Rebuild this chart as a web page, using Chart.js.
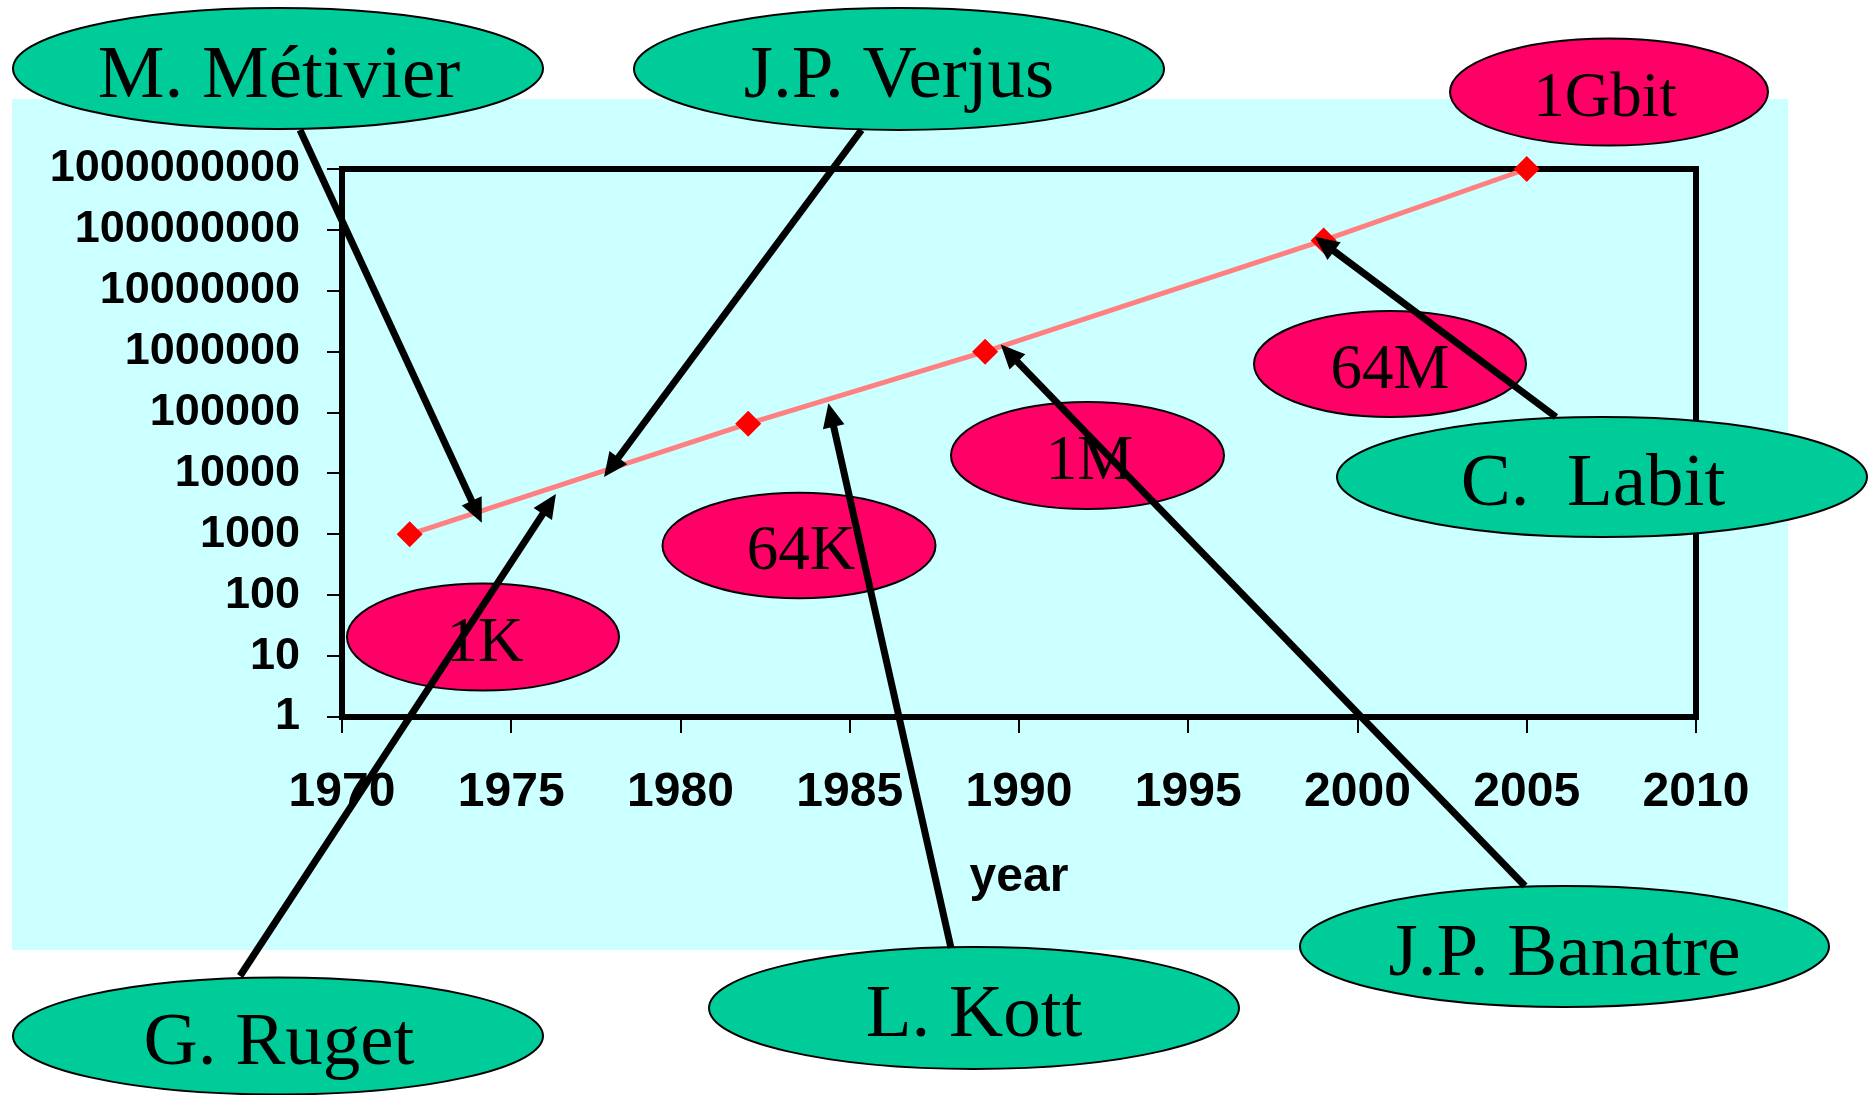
<!DOCTYPE html>
<html>
<head>
<meta charset="utf-8">
<script src="https://cdn.jsdelivr.net/npm/chart.js@4/dist/chart.umd.min.js"></script>
<style>
html,body{margin:0;padding:0;background:#fff;}
#wrap{width:1869px;height:1095px;position:relative;}
canvas{display:block;}
</style>
</head>
<body>
<div id="wrap"><canvas id="c" width="1869" height="1095"></canvas></div>
<script>
// ---- data ----
const years = [1972, 1982, 1989, 1999, 2005];
const bits = [1000, 65536, 1000000, 67108864, 1000000000];
const xTickValues = [1970, 1975, 1980, 1985, 1990, 1995, 2000, 2005, 2010];
const yTickValues = [1, 10, 100, 1000, 10000, 100000, 1000000, 10000000, 100000000, 1000000000];
const xTitle = 'year';
const chipLabels = ['1K', '64K', '1M', '64M', '1Gbit'];
const people = ['M. Métivier', 'J.P. Verjus', 'G. Ruget', 'L. Kott', 'J.P. Banatre', 'C.  Labit'];
// arrow targets (data coordinates: year, bits) for each person
const arrowYears = [1974.13, 1977.74, 1976.32, 1984.37, 1989.46, 1998.74];
const arrowBits = [1553, 8770, 4595, 141900, 1306000, 77300000];

// ---- layout of annotation shapes (pixels) ----
const chipShapes = [
  {cx: 483, cy: 637, rx: 136, ry: 53.5, dx: 2},
  {cx: 799, cy: 545.5, rx: 136.5, ry: 52.7, dx: 2},
  {cx: 1087.5, cy: 455.5, rx: 136.5, ry: 53.5, dx: 2},
  {cx: 1390, cy: 364, rx: 136, ry: 53, dx: 0},
  {cx: 1609, cy: 92, rx: 159, ry: 53.5, dx: -4}
];
const personShapes = [
  {cx: 278, cy: 68.5, rx: 265, ry: 60.5, dx: 1, sx: 300, sy: 130},
  {cx: 899, cy: 69, rx: 265, ry: 61, dx: 0, sx: 861.5, sy: 130},
  {cx: 278, cy: 1036, rx: 265, ry: 58.5, dx: 1, sx: 240, sy: 976},
  {cx: 974, cy: 1008, rx: 265, ry: 61, dx: 0, sx: 951, sy: 948},
  {cx: 1564.5, cy: 946.5, rx: 264.5, ry: 60.5, dx: 0, sx: 1525, sy: 886},
  {cx: 1602, cy: 477, rx: 265, ry: 60, dx: -9, sx: 1556, sy: 417}
];

const W = 1869, H = 1095;

function ellipse(ctx, s, fill) {
  ctx.beginPath();
  ctx.ellipse(s.cx, s.cy, s.rx, s.ry, 0, 0, Math.PI * 2);
  ctx.fillStyle = fill;
  ctx.fill();
  ctx.lineWidth = 2;
  ctx.strokeStyle = '#000';
  ctx.stroke();
}

function arrow(ctx, x0, y0, x1, y1) {
  const ang = Math.atan2(y1 - y0, x1 - x0);
  const len = 24, hw = 11;
  const bx = x1 - Math.cos(ang) * len, by = y1 - Math.sin(ang) * len;
  ctx.beginPath();
  ctx.moveTo(x0, y0);
  ctx.lineTo(bx + Math.cos(ang) * 2, by + Math.sin(ang) * 2);
  ctx.lineWidth = 7;
  ctx.lineCap = 'butt';
  ctx.strokeStyle = '#000';
  ctx.stroke();
  ctx.beginPath();
  ctx.moveTo(x1, y1);
  ctx.lineTo(bx + Math.sin(ang) * hw, by - Math.cos(ang) * hw);
  ctx.lineTo(bx - Math.sin(ang) * hw, by + Math.cos(ang) * hw);
  ctx.closePath();
  ctx.fillStyle = '#000';
  ctx.fill();
}

const annoPlugin = {
  id: 'anno',
  beforeDraw(chart) {
    const c = chart.ctx;
    c.save();
    c.fillStyle = '#ffffff';
    c.fillRect(0, 0, W, H);
    c.fillStyle = '#CCFFFF';
    c.fillRect(12, 99, 1776, 851);
    c.restore();
  },
  beforeDatasetsDraw(chart) {
    const c = chart.ctx;
    const a = chart.chartArea;
    c.save();
    c.strokeStyle = '#000';
    c.lineWidth = 6;
    c.lineCap = 'square';
    c.beginPath();
    c.moveTo(a.left, a.top);
    c.lineTo(a.right, a.top);
    c.lineTo(a.right, a.bottom);
    c.stroke();
    c.restore();
  },
  afterDraw(chart) {
    const c = chart.ctx;
    const xs = chart.scales.x, ys = chart.scales.y;
    c.save();
    chipShapes.forEach((s, i) => {
      ellipse(c, s, '#FF0066');
      c.fillStyle = '#000';
      c.font = '63px "Liberation Serif", "Times New Roman", serif';
      c.textAlign = 'center';
      c.textBaseline = 'alphabetic';
      c.fillText(chipLabels[i], s.cx + s.dx, s.cy + 23.5);
    });
    personShapes.forEach((s, i) => {
      ellipse(c, s, '#00CC99');
      c.fillStyle = '#000';
      c.font = '75px "Liberation Serif", "Times New Roman", serif';
      c.textAlign = 'center';
      c.textBaseline = 'alphabetic';
      c.fillText(people[i], s.cx + s.dx, s.cy + 28);
    });
    personShapes.forEach((s, i) => {
      const tx = xs.getPixelForValue(arrowYears[i]);
      const ty = ys.getPixelForValue(arrowBits[i]);
      arrow(c, s.sx, s.sy, tx, ty);
    });
    c.restore();
  }
};

const tickFontY = {family: '"Liberation Sans", Arial, sans-serif', weight: 'bold', size: 45};
const tickFontX = {family: '"Liberation Sans", Arial, sans-serif', weight: 'bold', size: 48};

new Chart(document.getElementById('c'), {
  type: 'line',
  data: {
    datasets: [{
      data: years.map((yr, i) => ({x: yr, y: bits[i]})),
      borderColor: '#FF8080',
      borderWidth: 5,
      pointStyle: 'rectRot',
      pointRadius: 13,
      pointBackgroundColor: '#FF0000',
      pointBorderColor: '#FF0000',
      pointBorderWidth: 0,
      tension: 0,
      clip: false
    }]
  },
  options: {
    responsive: false,
    animation: false,
    devicePixelRatio: 1,
    layout: {padding: {left: 0, top: 169, right: 173, bottom: 0}},
    plugins: {legend: {display: false}, tooltip: {enabled: false}, title: {display: false}},
    scales: {
      x: {
        type: 'linear',
        min: 1970,
        max: 2010,
        afterBuildTicks: s => { s.ticks = xTickValues.map(v => ({value: v})); },
        afterFit: s => { s.height = 378; },
        ticks: {
          callback: v => String(v),
          font: tickFontX,
          color: '#000',
          padding: 31,
          maxRotation: 0,
          autoSkip: false
        },
        grid: {drawOnChartArea: false, drawTicks: true, tickLength: 16, color: '#000', lineWidth: 2},
        border: {display: true, color: '#000', width: 6},
        title: {
          display: true,
          text: xTitle,
          color: '#000',
          font: tickFontX,
          padding: {top: 0, bottom: 188}
        }
      },
      y: {
        type: 'logarithmic',
        min: 1,
        max: 1000000000,
        afterBuildTicks: s => { s.ticks = yTickValues.map(v => ({value: v})); },
        afterFit: s => { s.width = 342; },
        ticks: {
          callback: v => String(v),
          font: tickFontY,
          color: '#000',
          padding: 27,
          autoSkip: false
        },
        grid: {drawOnChartArea: false, drawTicks: true, tickLength: 15, color: '#000', lineWidth: 2},
        border: {display: true, color: '#000', width: 6}
      }
    }
  },
  plugins: [annoPlugin]
});
</script>
</body>
</html>
